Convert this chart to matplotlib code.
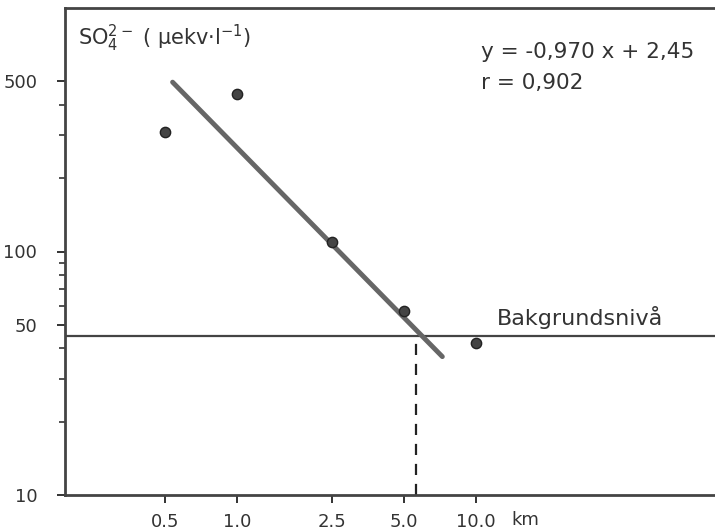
import matplotlib.pyplot as plt
from matplotlib.ticker import FixedLocator, NullFormatter

# mätpunkter: avstånd (km) och sulfat (mikroekv/l)
avstand = [0.5, 1.0, 2.5, 5.0, 10.0]
sulfat = [310, 443, 109, 57, 42]

# regressionslinjen som den är ritad (ändpunkter)
linje_x = [0.536, 7.22]
linje_y = [496, 37]

bakgrund = 45
skarning_x = 5.6

x_ticks = [0.5, 1.0, 2.5, 5.0, 10.0]
x_labels = ['0.5', '1.0', '2.5', '5.0', '10.0']
y_ticks = [10, 50, 100, 500]
y_labels = ['10', '50', '100', '500']
y_minor = [20, 30, 40, 60, 70, 80, 90, 200, 300, 400]

farg = '#333333'
plt.rcParams['font.family'] = ['DejaVu Sans']

fig = plt.figure(figsize=(7.15, 5.32), dpi=100)
ax = fig.add_axes([65/715, 37/532, 650/715, 487/532])
ax.set_xscale('log')
ax.set_yscale('log')
ax.set_xlim(0.19, 100)
ax.set_ylim(10, 1000)

ax.plot(linje_x, linje_y, color='#666666', lw=3.5, solid_capstyle='round', zorder=3)
ax.axhline(bakgrund, color='#444444', lw=1.6, zorder=2)
ax.plot([skarning_x, skarning_x], [10, bakgrund], color='#222222', lw=1.6,
        ls=(0, (5, 4)), zorder=2)
ax.scatter(avstand, sulfat, s=55, color='#444444', edgecolor='#222222', zorder=4)

ax.text(0.665, bakgrund * 1.07, 'Bakgrundsnivå', fontsize=16, color=farg,
        transform=ax.get_yaxis_transform(), va='bottom')
ax.text(0.02, 0.97, r'SO$_4^{2-}$ ( μekv·l$^{-1}$)', fontsize=15, color=farg,
        transform=ax.transAxes, va='top')
ax.text(0.64, 0.91, 'y = -0,970 x + 2,45', fontsize=15.5, color=farg,
        transform=ax.transAxes, va='center')
ax.text(0.64, 0.845, 'r = 0,902', fontsize=15.5, color=farg,
        transform=ax.transAxes, va='center')
fig.text(525/715, 1 - 520/532, 'km', fontsize=13, color=farg,
         ha='center', va='center')

ax.xaxis.set_major_locator(FixedLocator(x_ticks))
ax.set_xticklabels(x_labels)
ax.xaxis.set_minor_locator(FixedLocator([]))
ax.yaxis.set_major_locator(FixedLocator(y_ticks))
ax.set_yticklabels(y_labels)
ax.yaxis.set_minor_locator(FixedLocator(y_minor))
ax.yaxis.set_minor_formatter(NullFormatter())

ax.tick_params(axis='x', which='major', length=6, width=1.4, pad=7,
               labelsize=13, colors=farg)
ax.tick_params(axis='y', which='major', length=6, width=1.4, pad=14,
               labelsize=13, colors=farg)
ax.tick_params(axis='y', which='minor', length=4, width=1.2, colors=farg)

for s in ['left', 'bottom', 'top']:
    ax.spines[s].set_linewidth(2)
    ax.spines[s].set_color('#444444')
ax.spines['right'].set_visible(False)

fig.savefig('out.png', dpi=100)
